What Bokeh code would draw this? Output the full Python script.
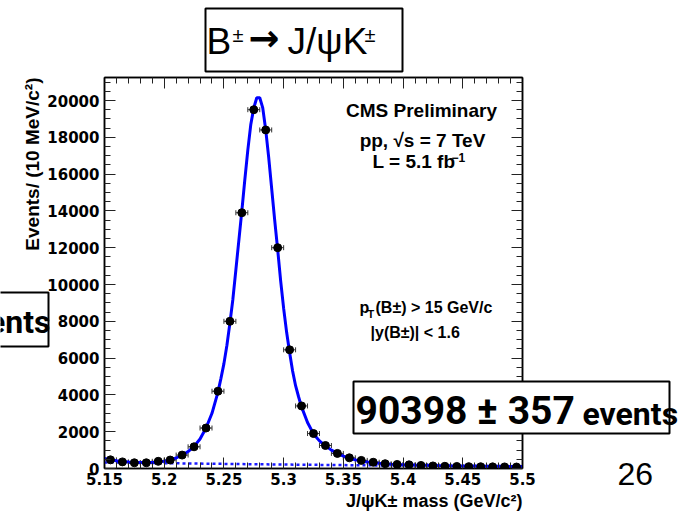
import math
from bokeh.plotting import figure
from bokeh.models import (ColumnDataSource, Whisker, TeeHead, Label,
                          LinearAxis, SingleIntervalTicker, CustomJSTickFormatter, Range1d)
from bokeh.embed import file_html
from bokeh.resources import INLINE

# ---------------- data ----------------
mass = [5.155, 5.165, 5.175, 5.185, 5.195, 5.205, 5.215, 5.225, 5.235, 5.245,
        5.255, 5.265, 5.275, 5.285, 5.295, 5.305, 5.315, 5.325, 5.335, 5.345,
        5.355, 5.365, 5.375, 5.385, 5.395, 5.405, 5.415, 5.425, 5.435, 5.445,
        5.455, 5.465, 5.475, 5.485, 5.495]
events = [470, 360, 310, 310, 390, 460, 730, 1180, 2200, 4200,
          8000, 13900, 19500, 18400, 12000, 6450, 3400, 1900, 1250, 820,
          580, 440, 340, 260, 220, 200, 165, 140, 120, 110,
          100, 95, 90, 85, 80]
bin_half_width = 0.005

fit_mass = [5.150, 5.155, 5.160, 5.165, 5.170, 5.175, 5.180, 5.185, 5.190, 5.195,
            5.200, 5.205, 5.210, 5.215, 5.220, 5.225, 5.230, 5.235, 5.240, 5.245,
            5.2475, 5.250, 5.2525, 5.255, 5.2575, 5.260, 5.2625, 5.265, 5.2675, 5.270,
            5.2725, 5.275, 5.2775, 5.280, 5.2825, 5.285, 5.2875, 5.290, 5.2925, 5.295,
            5.2975, 5.300, 5.3025, 5.305, 5.3075, 5.310, 5.3125, 5.315, 5.320, 5.325,
            5.330, 5.335, 5.340, 5.345, 5.350, 5.355, 5.360, 5.365, 5.370, 5.375,
            5.380, 5.385, 5.390, 5.395, 5.400, 5.410, 5.420, 5.430, 5.440, 5.450,
            5.460, 5.470, 5.480, 5.490, 5.500]
fit_events = [540, 470, 420, 380, 350, 330, 320, 320, 330, 360,
              400, 470, 570, 720, 920, 1200, 1600, 2200, 3000, 4150,
              4900, 5700, 6700, 7900, 9200, 10800, 12400, 14000, 15700, 17300,
              18700, 19600, 20150, 20150, 19600, 18400, 16900, 15200, 13500, 11900,
              10200, 8700, 7400, 6300, 5300, 4500, 3900, 3350, 2500, 1880,
              1500, 1230, 1000, 820, 670, 560, 470, 400, 350, 310,
              280, 255, 235, 220, 210, 190, 175, 160, 148, 138,
              130, 122, 116, 110, 105]

bkg_mass = [5.15, 5.20, 5.25, 5.30, 5.35, 5.40, 5.45, 5.50]
bkg_events = [330, 290, 250, 215, 185, 155, 125, 100]

x_ticks_interval = 0.05
y_ticks_interval = 2000

# ---------------- layout ----------------
W, H = 696, 515
FL, FR, FT, FB = 104, 522, 77, 468
SHIFT = 0.37  # measured offset of Bokeh's alphabetic baseline, in font sizes

p = figure(width=W, height=H, output_backend="svg", toolbar_location=None,
           x_range=Range1d(5.15, 5.5), y_range=Range1d(0, 21250),
           min_border_left=FL, min_border_right=W - FR,
           min_border_top=FT, min_border_bottom=H - FB)
p.xgrid.visible = False
p.ygrid.visible = False
p.outline_line_color = "black"
p.outline_line_width = 1.5
p.background_fill_color = "white"
p.border_fill_color = "white"


def style_axis(ax, ticker, show_labels=True):
    ax.ticker = ticker
    ax.major_tick_in = 11
    ax.major_tick_out = 0
    ax.minor_tick_in = 6
    ax.minor_tick_out = 0
    ax.axis_line_color = "black"
    ax.axis_line_width = 1.5
    ax.major_tick_line_color = "#222222"
    ax.minor_tick_line_color = "#222222"
    ax.major_tick_line_width = 1
    ax.minor_tick_line_width = 1
    ax.major_label_text_font = "DejaVu Sans"
    ax.major_label_text_font_style = "bold"
    ax.major_label_text_font_size = "15px"
    ax.major_label_text_color = "black"
    ax.axis_label = None
    if not show_labels:
        ax.major_label_text_font_size = "0px"
        ax.major_label_text_alpha = 0


xb = p.xaxis[0]
yl = p.yaxis[0]
style_axis(xb, SingleIntervalTicker(interval=x_ticks_interval, num_minor_ticks=5))
xb.formatter = CustomJSTickFormatter(code="return tick.toFixed(2).replace(/0$/, '');")
xb.major_label_standoff = 4
style_axis(yl, SingleIntervalTicker(interval=y_ticks_interval, num_minor_ticks=4))
yl.major_label_standoff = 5

xt = LinearAxis()
style_axis(xt, SingleIntervalTicker(interval=x_ticks_interval, num_minor_ticks=5), False)
p.add_layout(xt, "above")
yr = LinearAxis()
style_axis(yr, SingleIntervalTicker(interval=y_ticks_interval, num_minor_ticks=4), False)
p.add_layout(yr, "right")

# ---------------- glyphs ----------------
src = ColumnDataSource(dict(
    x=mass, y=events,
    xl=[m - bin_half_width for m in mass],
    xu=[m + bin_half_width for m in mass]))

p.add_layout(Whisker(source=src, base="y", lower="xl", upper="xu", dimension="width",
                     line_color="#333333", line_width=1,
                     lower_head=TeeHead(size=5, line_color="#333333", line_width=1),
                     upper_head=TeeHead(size=5, line_color="#333333", line_width=1)))

p.line(bkg_mass, bkg_events, line_color="#1a1aff", line_width=2.5, line_dash="3 3")
p.line(fit_mass, fit_events, line_color="#0000ff", line_width=3)
p.scatter("x", "y", source=src, marker="circle", size=8, fill_color="black",
          line_color="black")


def lab_in(text, px, py, size, bold=False, align="left", font="Liberation Sans"):
    """label inside the plot frame; py is the wanted baseline in page pixels"""
    p.add_layout(Label(x=px - FL, y=FB - (py - SHIFT * size), x_units="screen", y_units="screen",
                       text=text, text_font=font, text_font_size=f"{size}px",
                       text_font_style="bold" if bold else "normal",
                       text_align=align, text_baseline="alphabetic",
                       text_color="black"))


lab_in("CMS Preliminary", 421, 117, 19, bold=True, align="center")
lab_in("pp, √s = 7 TeV", 422, 147, 19, bold=True, align="center")
lab_in("L = 5.1 fb", 372, 168, 19, bold=True)
lab_in("−1", 451, 161, 12, bold=True)
lab_in("p", 359, 313, 16, bold=True)
lab_in("T", 367, 318, 11, bold=True)
lab_in("(B±) > 15 GeV/c", 375, 313, 16, bold=True)
lab_in("|y(B±)| < 1.6", 370, 338, 16, bold=True)

# ---------------- overlay (page-pixel coordinates) ----------------
ov = figure(width=W, height=H, output_backend="svg", toolbar_location=None,
            x_range=Range1d(0, W), y_range=Range1d(H, 0),
            x_axis_type=None, y_axis_type=None,
            min_border=0, min_border_left=0, min_border_right=0,
            min_border_top=0, min_border_bottom=0)
ov.outline_line_color = None
ov.background_fill_alpha = 0
ov.border_fill_alpha = 0
ov.xgrid.visible = False
ov.ygrid.visible = False
ov.styles = {"position": "absolute", "left": "0px", "top": "0px"}


def lab(text, px, py, size, bold=False, align="left", font="Liberation Sans", angle=0.0):
    if angle:
        px = px - SHIFT * size
    else:
        py = py - SHIFT * size
    ov.add_layout(Label(x=px, y=py, text=text, text_font=font, text_font_size=f"{size}px",
                        text_font_style="bold" if bold else "normal",
                        text_align=align, text_baseline="alphabetic", angle=angle,
                        text_color="black"))


box_left = [205, -3, 353]
box_right = [402, 48, 669]
box_top = [8, 292, 381]
box_bottom = [71, 346, 433]
ov.quad(left=box_left, right=box_right, top=box_top, bottom=box_bottom,
        fill_color="white", line_color="black", line_width=2)

# title
lab("B", 206, 55, 37)
lab("±", 232, 42, 20)
lab("→", 248, 52, 37, bold=True, font="DejaVu Sans")
lab("J/ψK", 287, 55, 37)
lab("±", 364, 42, 20)

# axis titles
lab("J/ψK± mass (GeV/c²)", 522, 507, 18, bold=True, align="right")
lab("Events/ (10 MeV/c²)", 39, 77, 19, bold=True, align="right", angle=math.pi / 2)

# yield boxes
lab("ents", 50, 333, 32, bold=True, align="right", font="Roboto")
lab("90398 ± 357", 355, 425, 39, bold=True, font="Roboto")
lab("events", 582, 425, 32, bold=True, font="Roboto")

# page number
lab("26", 617, 485, 32)

open("out.html", "w").write(file_html([p, ov], INLINE))
